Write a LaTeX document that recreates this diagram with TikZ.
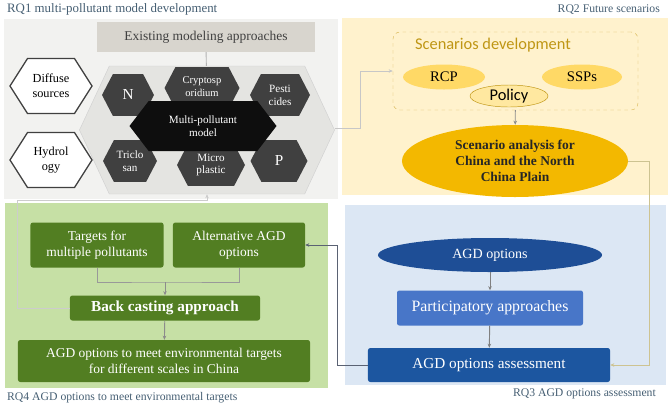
\documentclass[tikz,border=0pt]{standalone}
\usepackage{fontspec}
\setmainfont{Liberation Serif}
\newfontfamily\calibri{Carlito}
\usetikzlibrary{arrows.meta, shapes.geometric, shapes.symbols, calc}
\definecolor{panelgray}{RGB}{242,242,240}
\definecolor{panelyellow}{RGB}{255,242,205}
\definecolor{panelgreen}{RGB}{198,224,165}
\definecolor{panelblue}{RGB}{220,231,244}
\definecolor{existgray}{RGB}{216,213,206}
\definecolor{bighexgray}{RGB}{228,228,225}
\definecolor{hexdark}{RGB}{64,64,64}
\definecolor{hexblack}{RGB}{14,14,14}
\definecolor{goldlight}{RGB}{255,217,102}
\definecolor{goldpale}{RGB}{255,232,160}
\definecolor{golddark}{RGB}{191,150,20}
\definecolor{goldfull}{RGB}{243,184,0}
\definecolor{agdgreen}{RGB}{82,126,34}
\definecolor{agdblue}{RGB}{30,78,150}
\definecolor{partblue}{RGB}{72,118,200}
\definecolor{assessblue}{RGB}{28,86,160}
\definecolor{rqtext}{RGB}{70,95,115}
\definecolor{linkslate}{RGB}{90,98,115}
\definecolor{linkkhaki}{RGB}{205,195,145}

\begin{document}
\begin{tikzpicture}[x=0.03cm, y=-0.03cm, font=\fontsize{11.5}{13.5}\selectfont, >={Stealth[length=3.5pt,width=3pt]},
  hexw/.style={shape=signal, signal to=east and west, signal pointer angle=115, draw=hexdark, line width=1.1pt,
    fill=white, inner sep=0pt, align=center, minimum width=2.46cm, minimum height=1.65cm, font=\fontsize{10.5}{12.5}\selectfont},
  hexd/.style={shape=signal, signal to=east and west, signal pointer angle=125, fill=hexdark, text=white,
    inner sep=0pt, align=center, minimum height=1.25cm, font=\fontsize{9.5}{11}\selectfont},
  greenbox/.style={fill=agdgreen, text=white, rounded corners=2pt, align=center, inner sep=1pt},
  goldell/.style={ellipse, fill=goldlight, inner sep=0pt, font=\fontsize{12.5}{14}\selectfont},
  rqlabel/.style={text=rqtext, font=\fontsize{10}{12}\selectfont},
  link/.style={draw=#1, line width=0.8pt}]

  % ---- panels ----
  \useasboundingbox (0,0) rectangle (670,408);
  \fill[panelgray] (4,19) rectangle (338,199);
  \fill[panelyellow] (342,18) rectangle (668,195);
  \fill[panelgreen] (5,203) rectangle (328,388);
  \fill[panelblue] (345,205) rectangle (666,385);

  % ---- panel titles ----
  \node[rqlabel, anchor=west, font=\fontsize{11}{13}\selectfont] (rq1) at (3,9) {RQ1 multi-pollutant model development};
  \node[rqlabel, anchor=east] (rq2) at (664,10) {RQ2 Future scenarios};
  \node[rqlabel, anchor=west] (rq4) at (3,398) {RQ4 AGD options to meet environmental targets};
  \node[rqlabel, anchor=east] (rq3) at (660,394) {RQ3 AGD options assessment};

  % ---- RQ1: model ----
  \node[fill=existgray, text=black!75, minimum width=6.54cm, minimum height=0.9cm] (exist) at (206,37)
    {Existing modeling approaches};
  \node[shape=signal, signal to=east and west, signal pointer angle=130, fill=bighexgray, draw=black!18,
    minimum width=7.65cm, minimum height=3.84cm, inner sep=0pt] (bighex) at (207,130) {};
  \node[hexw] (diff) at (51,86) {Diffuse\\sources};
  \node[hexw] (hydro) at (51,160) {Hydrol\\ogy};

  \node[hexd, minimum width=1.56cm, font=\fontsize{13}{14}\selectfont] (n) at (128,95) {N};
  \node[hexd, minimum width=2.25cm, font=\fontsize{9}{10.5}\selectfont] (crypto) at (202,88)
    {\raisebox{3pt}{\shortstack{Cryptosp\\oridium}}};
  \node[hexd, minimum width=1.8cm] (pest) at (280,95) {Pesti\\cides};
  \node[hexd, minimum width=1.62cm] (tric) at (130,161) {Triclo\\san};
  \node[hexd, minimum width=2.04cm] (micro) at (211,165) {Micro\\plastic};
  \node[hexd, minimum width=1.71cm, font=\fontsize{13}{14}\selectfont] (p) at (279,161) {P};
  \node[hexd, fill=hexblack, signal pointer angle=105, minimum width=4.41cm, minimum height=1.5cm] (multi)
    at (203,126) {Multi-pollutant\\model};

  % ---- RQ2: scenarios ----
  \node[draw=goldlight!85!black, dashed, rounded corners=6pt, minimum width=7.35cm, minimum height=2.34cm] (scen)
    at (515.5,71) {};
  \node[text=golddark, font=\calibri\fontsize{14}{16}\selectfont] (scentitle) at (493,45) {Scenarios development};
  \node[goldell, minimum width=2.46cm, minimum height=0.75cm] (rcp) at (444,77) {RCP};
  \node[goldell, minimum width=2.4cm, minimum height=0.75cm] (ssp) at (582,77) {SSPs};
  \node[goldell, fill=goldpale, draw=golddark, minimum width=2.34cm, minimum height=0.66cm,
    font=\calibri\fontsize{14}{16}\selectfont] (policy) at (509,96) {Policy};
  \node[ellipse, fill=goldfull, text=black!85, align=center, inner sep=0pt, minimum width=6.78cm, minimum height=2.16cm,
    font=\bfseries\fontsize{11.5}{13.5}\selectfont] (ana) at (515,161) {Scenario analysis for\\China and the North\\China Plain};

  % ---- RQ4: targets ----
  \node[greenbox, minimum width=3.99cm, minimum height=1.35cm] (tgt) at (97,245) {Targets for\\multiple pollutants};
  \node[greenbox, minimum width=3.96cm, minimum height=1.35cm] (alt) at (239,245) {Alternative AGD\\options};
  \node[greenbox, minimum width=5.7cm, minimum height=0.75cm, font=\bfseries\fontsize{13}{15}\selectfont] (back)
    at (165,308) {Back casting approach};
  \node[greenbox, minimum width=8.76cm, minimum height=1.26cm] (goal) at (164,361)
    {AGD options to meet environmental targets\\for different scales in China};

  % ---- RQ3: assessment ----
  \node[ellipse, fill=agdblue, text=white, inner sep=0pt, minimum width=6.72cm, minimum height=1.02cm,
    font=\fontsize{12}{14}\selectfont] (agd) at (490,255) {AGD options};
  \node[fill=partblue, text=white, rounded corners=2pt, minimum width=5.58cm, minimum height=1.05cm,
    font=\fontsize{13.5}{15}\selectfont] (part) at (490,308) {Participatory approaches};
  \node[fill=assessblue, text=white, rounded corners=2pt, minimum width=7.26cm, minimum height=1.02cm,
    font=\fontsize{13}{15}\selectfont] (assess) at (489,365) {AGD options assessment};

  % ---- connectors ----
  \coordinate (j) at (165,282);
  \coordinate (bk) at (17,200);
  \coordinate (sc) at (360,128);
  \coordinate (rt) at (649,365);
  \coordinate (lf) at (337,365);

  \draw[link=black!30] (exist) -- (bighex);
  \draw[link=black!22, ->] (bighex.east |- sc) -- (sc) |- (scen.west);
  \draw[link=black!45, ->] (scen) -- (ana);
  \draw[link=linkkhaki, ->] (ana.east) -| (rt) -- (assess.east);
  \draw[link=black!40] (tgt) |- (j) -| (alt);
  \draw[link=black!45, ->] (j) -- (back);
  \draw[link=black!20, ->] (back.west) -| (bk) -| (bighex.south);
  \draw[link=black!45, ->] (back) -- (goal);
  \draw[link=black!50, ->] (agd) -- (part);
  \draw[link=black!50, ->] (part) -- (assess);
  \draw[link=linkslate, ->] (assess.west) -- (lf) |- (alt.east);

\end{tikzpicture}
\end{document}
